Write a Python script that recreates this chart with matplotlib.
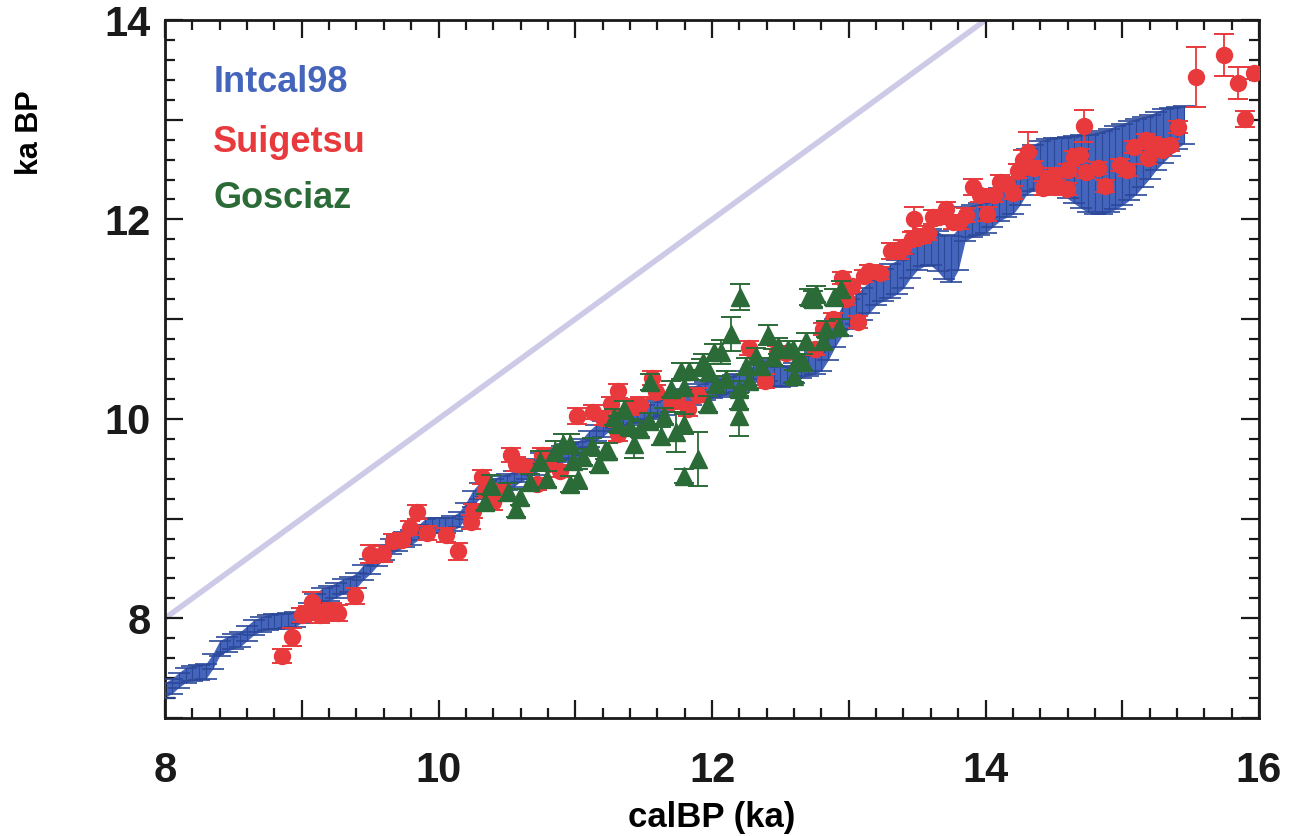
import numpy as np
import matplotlib
matplotlib.use("Agg")
import matplotlib.pyplot as plt
from matplotlib.ticker import MultipleLocator, FuncFormatter

plt.rcParams['font.family'] = ['Liberation Sans', 'DejaVu Sans']
plt.rcParams['font.weight'] = 'bold'

# Intcal98 band: calendar age grid (ka), centre and half-width (ka BP)
intcal_x = np.round(np.arange(8.0, 15.451, 0.05), 2)
intcal_y = [
    7.28, 7.32, 7.38, 7.43, 7.45, 7.46, 7.47, 7.57, 7.70, 7.74,
    7.77, 7.79, 7.85, 7.91, 7.94, 7.96, 7.97, 7.97, 7.98, 7.99,
    8.03, 8.08, 8.17, 8.23, 8.25, 8.28, 8.32, 8.34, 8.38, 8.46,
    8.52, 8.60, 8.66, 8.72, 8.75, 8.79, 8.81, 8.86, 8.92, 8.93,
    8.93, 8.93, 8.95, 8.99, 9.08, 9.20, 9.28, 9.30, 9.32, 9.35,
    9.37, 9.40, 9.45, 9.48, 9.52, 9.58, 9.60, 9.62, 9.65, 9.67,
    9.69, 9.72, 9.80, 9.86, 9.90, 9.96, 9.99, 10.01, 10.02, 10.04,
    10.05, 10.08, 10.10, 10.12, 10.16, 10.20, 10.21, 10.23, 10.26, 10.28,
    10.30, 10.31, 10.33, 10.35, 10.36, 10.38, 10.44, 10.50, 10.48, 10.43,
    10.42, 10.43, 10.46, 10.52, 10.54, 10.56, 10.60, 10.72, 10.86, 10.98,
    11.05, 11.10, 11.15, 11.22, 11.30, 11.34, 11.38, 11.42, 11.48, 11.58,
    11.66, 11.70, 11.72, 11.68, 11.62, 11.60, 11.70, 11.95, 11.98, 12.00,
    12.02, 12.08, 12.15, 12.20, 12.24, 12.35, 12.48, 12.52, 12.55, 12.56,
    12.56, 12.55, 12.52, 12.50, 12.48, 12.46, 12.46, 12.47, 12.49, 12.52,
    12.55, 12.59, 12.63, 12.68, 12.73, 12.79, 12.84, 12.88, 12.92, 12.95,
]
intcal_err = [
    0.075, 0.075, 0.075, 0.075, 0.075, 0.075, 0.075, 0.075, 0.075, 0.075,
    0.075, 0.075, 0.075, 0.075, 0.075, 0.075, 0.075, 0.075, 0.075, 0.075,
    0.075, 0.075, 0.075, 0.075, 0.075, 0.075, 0.075, 0.075, 0.075, 0.075,
    0.075, 0.075, 0.075, 0.075, 0.075, 0.075, 0.075, 0.075, 0.075, 0.075,
    0.075, 0.075, 0.075, 0.075, 0.08, 0.08, 0.08, 0.08, 0.08, 0.08,
    0.08, 0.08, 0.08, 0.08, 0.08, 0.08, 0.08, 0.08, 0.08, 0.08,
    0.08, 0.08, 0.08, 0.08, 0.08, 0.08, 0.08, 0.08, 0.08, 0.08,
    0.085, 0.085, 0.085, 0.085, 0.09, 0.09, 0.09, 0.09, 0.09, 0.09,
    0.09, 0.09, 0.09, 0.09, 0.09, 0.095, 0.1, 0.1, 0.1, 0.1,
    0.1, 0.1, 0.105, 0.11, 0.11, 0.11, 0.12, 0.13, 0.14, 0.15,
    0.15, 0.15, 0.16, 0.16, 0.16, 0.16, 0.17, 0.17, 0.17, 0.17,
    0.17, 0.17, 0.18, 0.2, 0.22, 0.23, 0.21, 0.17, 0.16, 0.16,
    0.16, 0.16, 0.17, 0.18, 0.19, 0.21, 0.23, 0.23, 0.24, 0.25,
    0.26, 0.27, 0.31, 0.34, 0.37, 0.39, 0.41, 0.42, 0.42, 0.42,
    0.41, 0.4, 0.38, 0.35, 0.32, 0.29, 0.27, 0.24, 0.21, 0.19,
]

# Lake Suigetsu varve ages
suigetsu_x = [
    8.857, 8.930, 9.003, 9.047, 9.076, 9.135, 9.186, 9.223, 9.266, 9.391,
    9.501, 9.596, 9.669, 9.735, 9.794, 9.845, 9.918, 10.057, 10.145, 10.240,
    10.255, 10.321, 10.343, 10.401, 10.467, 10.533, 10.570, 10.628, 10.723, 10.760,
    10.804, 10.892, 11.016, 11.133, 11.206, 11.265, 11.309, 11.309, 11.404, 11.470,
    11.558, 11.594, 11.697, 11.741, 11.821, 11.895, 12.268, 12.385, 12.473, 12.539,
    12.751, 12.810, 12.883, 12.978, 13.022, 12.949, 13.066, 13.110, 13.146, 13.227,
    13.307, 13.366, 13.395, 13.461, 13.476, 13.534, 13.578, 13.615, 13.659, 13.710,
    13.761, 13.805, 13.857, 13.908, 13.959, 14.010, 14.061, 14.105, 14.157, 14.201,
    14.237, 14.274, 14.310, 14.354, 14.420, 14.457, 14.501, 14.508, 14.596, 14.603,
    14.647, 14.691, 14.720, 14.735, 14.823, 14.874, 14.984, 15.035, 15.086, 15.174,
    15.189, 15.211, 15.255, 15.291, 15.350, 15.409, 15.540, 15.745, 15.848, 15.899,
    15.965,
]
suigetsu_y = [
    7.62, 7.81, 8.03, 8.05, 8.16, 8.03, 8.05, 8.07, 8.05, 8.22,
    8.64, 8.64, 8.78, 8.79, 8.91, 9.07, 8.86, 8.84, 8.67, 8.97,
    9.08, 9.42, 9.28, 9.17, 9.27, 9.64, 9.55, 9.53, 9.35, 9.64,
    9.55, 9.48, 10.03, 10.07, 10.01, 10.15, 10.28, 9.85, 10.12, 10.14,
    10.41, 10.27, 10.17, 10.20, 10.10, 10.24, 10.71, 10.38, 10.67, 10.66,
    10.70, 10.90, 11.00, 11.20, 11.33, 11.41, 10.97, 11.43, 11.48, 11.46,
    11.68, 11.68, 11.72, 11.80, 12.00, 11.83, 11.86, 12.02, 12.02, 12.10,
    11.97, 11.97, 12.04, 12.33, 12.24, 12.05, 12.24, 12.38, 12.36, 12.27,
    12.49, 12.60, 12.68, 12.52, 12.32, 12.42, 12.45, 12.33, 12.31, 12.50,
    12.63, 12.65, 12.94, 12.48, 12.52, 12.34, 12.55, 12.50, 12.73, 12.80,
    12.62, 12.77, 12.74, 12.70, 12.75, 12.93, 13.43, 13.65, 13.37, 13.01,
    13.47,
]
suigetsu_err = [
    0.07, 0.09, 0.07, 0.07, 0.10, 0.08, 0.08, 0.08, 0.08, 0.08,
    0.09, 0.08, 0.07, 0.07, 0.07, 0.07, 0.07, 0.07, 0.09, 0.07,
    0.07, 0.07, 0.07, 0.08, 0.08, 0.07, 0.07, 0.06, 0.06, 0.07,
    0.07, 0.06, 0.08, 0.07, 0.07, 0.07, 0.07, 0.07, 0.08, 0.08,
    0.07, 0.07, 0.07, 0.07, 0.07, 0.07, 0.07, 0.07, 0.06, 0.06,
    0.06, 0.06, 0.06, 0.06, 0.06, 0.06, 0.06, 0.06, 0.06, 0.06,
    0.08, 0.08, 0.07, 0.07, 0.12, 0.07, 0.07, 0.07, 0.07, 0.07,
    0.07, 0.07, 0.07, 0.08, 0.07, 0.07, 0.07, 0.07, 0.07, 0.07,
    0.07, 0.10, 0.20, 0.07, 0.07, 0.07, 0.07, 0.07, 0.06, 0.06,
    0.06, 0.06, 0.16, 0.06, 0.06, 0.06, 0.06, 0.06, 0.06, 0.06,
    0.06, 0.06, 0.06, 0.06, 0.06, 0.06, 0.30, 0.21, 0.16, 0.08,
    0.06,
]

# Lake Gosciaz varve ages
gosciaz_x = [
    10.343, 10.387, 10.511, 10.570, 10.599, 10.672, 10.745, 10.796, 10.855, 10.914,
    10.965, 10.965, 10.987, 11.023, 11.060, 11.126, 11.177, 11.220, 11.236, 11.280,
    11.316, 11.353, 11.404, 11.426, 11.477, 11.536, 11.550, 11.624, 11.646, 11.697,
    11.734, 11.770, 11.792, 11.792, 11.792, 11.829, 11.895, 11.920, 11.931, 11.968,
    11.975, 12.012, 12.026, 12.063, 12.100, 12.140, 12.195, 12.195, 12.195, 12.202,
    12.246, 12.270, 12.319, 12.356, 12.407, 12.444, 12.480, 12.553, 12.597, 12.590,
    12.612, 12.663, 12.685, 12.707, 12.736, 12.758, 12.810, 12.832, 12.890, 12.927,
    12.941,
]
gosciaz_y = [
    9.17, 9.34, 9.27, 9.10, 9.22, 9.37, 9.58, 9.40, 9.68, 9.75,
    9.75, 9.35, 9.58, 9.40, 9.62, 9.73, 9.55, 9.68, 9.68, 10.02,
    9.95, 10.10, 9.92, 9.75, 9.90, 9.98, 10.37, 9.83, 10.03, 10.30,
    9.87, 10.48, 10.32, 9.95, 9.43, 10.48, 9.60, 10.52, 10.57, 10.15,
    10.47, 10.67, 10.35, 10.67, 10.40, 10.85, 10.30, 10.18, 10.03, 11.22,
    10.53, 10.38, 10.63, 10.53, 10.84, 10.62, 10.73, 10.70, 10.43, 10.70,
    10.57, 10.57, 10.78, 11.22, 11.20, 11.25, 10.78, 10.90, 11.22, 10.92,
    11.30,
]
gosciaz_err = [
    0.08, 0.10, 0.09, 0.08, 0.08, 0.08, 0.10, 0.08, 0.10, 0.10,
    0.10, 0.08, 0.08, 0.10, 0.08, 0.08, 0.08, 0.08, 0.08, 0.08,
    0.08, 0.08, 0.08, 0.14, 0.08, 0.08, 0.08, 0.09, 0.08, 0.08,
    0.20, 0.08, 0.08, 0.10, 0.07, 0.08, 0.27, 0.08, 0.08, 0.08,
    0.08, 0.08, 0.08, 0.12, 0.08, 0.17, 0.08, 0.08, 0.20, 0.13,
    0.08, 0.08, 0.08, 0.08, 0.10, 0.08, 0.08, 0.08, 0.06, 0.08,
    0.08, 0.08, 0.08, 0.08, 0.08, 0.08, 0.08, 0.08, 0.08, 0.08,
    0.08,
]

# 1:1 reference line
one_to_one = [8, 14]

BLUE = '#4565bd'
BLUE_DARK = '#2b4899'
RED = '#e8393d'
GREEN = '#2b6b37'
LAVENDER = '#cdcae8'

fig = plt.figure(figsize=(12.9, 8.36), dpi=100)
ax = fig.add_axes([165 / 1290, 1 - 718 / 836, (1259 - 165) / 1290, (718 - 20) / 836])

ax.plot(one_to_one, one_to_one, color=LAVENDER, lw=4, solid_capstyle='butt', zorder=1)

lo = np.array(intcal_y) - np.array(intcal_err)
hi = np.array(intcal_y) + np.array(intcal_err)
ax.fill_between(intcal_x, lo, hi, color=BLUE, lw=0, zorder=2)
ax.errorbar(intcal_x, intcal_y, yerr=intcal_err, fmt='none', ecolor=BLUE_DARK,
            elinewidth=0.8, capsize=8, capthick=1.2, zorder=3)

ax.errorbar(suigetsu_x, suigetsu_y, yerr=suigetsu_err, fmt='o', color=RED,
            ms=11.5, mec=RED, ecolor=RED, elinewidth=1.3, capsize=7, capthick=1.4, zorder=4)
ax.errorbar(gosciaz_x, gosciaz_y, yerr=gosciaz_err, fmt='^', color=GREEN,
            ms=12.5, mec=GREEN, ecolor=GREEN, elinewidth=1.3, capsize=7, capthick=1.4, zorder=5)

ax.set_xlim(8, 16)
ax.set_ylim(7, 14)

ax.xaxis.set_major_locator(MultipleLocator(1))
ax.xaxis.set_minor_locator(MultipleLocator(0.2))
ax.yaxis.set_major_locator(MultipleLocator(1))
ax.yaxis.set_minor_locator(MultipleLocator(0.2))
even_only = FuncFormatter(lambda v, p: f"{v:.0f}" if round(v) % 2 == 0 else "")
ax.xaxis.set_major_formatter(even_only)
ax.yaxis.set_major_formatter(even_only)

ax.tick_params(which='both', direction='in', top=True, right=True, width=1.6, colors='#1a1a1a')
ax.tick_params(which='major', length=13)
ax.tick_params(which='minor', length=7)
ax.tick_params(axis='x', which='major', labelsize=30, pad=24)
ax.tick_params(axis='y', which='major', labelsize=30, pad=10)
for lab in ax.get_xticklabels() + ax.get_yticklabels():
    lab.set_fontweight('bold')
for sp in ax.spines.values():
    sp.set_linewidth(2)
    sp.set_color('#1a1a1a')

fig.text(712 / 1290, 1 - 818 / 836, 'calBP (ka)', ha='center', va='center',
         fontsize=25, fontweight='bold')
fig.text(30 / 1290, 1 - 133 / 836, 'ka BP', ha='center', va='center',
         rotation=90, fontsize=22, fontweight='bold')

ax.text(0.044, 0.897, 'Intcal98', transform=ax.transAxes, color='#4565bd',
        fontsize=26, fontweight='bold', va='baseline')
ax.text(0.044, 0.811, 'Suigetsu', transform=ax.transAxes, color=RED,
        fontsize=26, fontweight='bold', va='baseline')
ax.text(0.044, 0.731, 'Gosciaz', transform=ax.transAxes, color=GREEN,
        fontsize=26, fontweight='bold', va='baseline')

fig.savefig('out.png', dpi=100)
